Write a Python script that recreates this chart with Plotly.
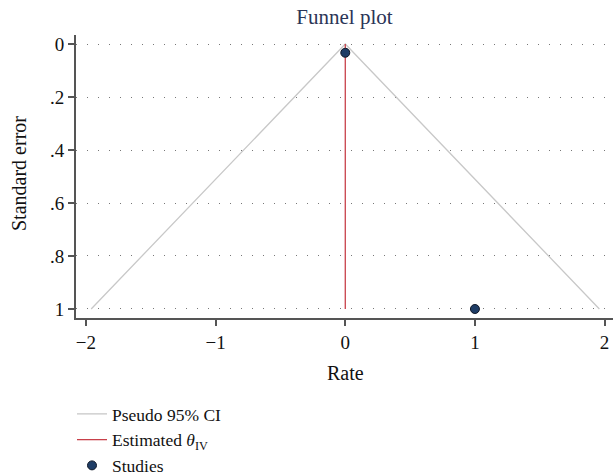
import plotly.graph_objects as go

# Data
study_rate = [0.0, 1.0]
study_se = [0.033, 1.0]
theta_iv = 0.0
ci_se = [1.0, 0.0, 1.0]
ci_rate = [theta_iv - 1.96, theta_iv, theta_iv + 1.96]
est_se = [0.0, 1.0]
est_rate = [theta_iv, theta_iv]
y_ticks = [0, 0.2, 0.4, 0.6, 0.8, 1]
y_labels = ["0", ".2", ".4", ".6", ".8", "1"]
x_ticks = [-2, -1, 0, 1, 2]
x_labels = ["\u22122", "\u22121", "0", "1", "2"]

FONT = "Liberation Serif"
FS = 19
W, H = 613, 474

fig = go.Figure()
fig.add_trace(go.Scatter(x=ci_rate, y=ci_se, mode="lines",
                         line=dict(color="#c8c8c8", width=1.3),
                         name="Pseudo 95% CI"))
fig.add_trace(go.Scatter(x=est_rate, y=est_se, mode="lines",
                         line=dict(color="#c8404a", width=1.3),
                         name="Estimated <i>θ</i><sub>IV</sub>"))
fig.add_trace(go.Scatter(x=study_rate, y=study_se, mode="markers",
                         marker=dict(color="#1f3d66", size=9,
                                     line=dict(color="#111827", width=1)),
                         name="Studies"))

fig.update_layout(
    width=W, height=H,
    margin=dict(l=76, r=0, t=35, b=156, autoexpand=False),
    paper_bgcolor="white", plot_bgcolor="white",
    font=dict(family=FONT, size=FS, color="#111111"),
    title=dict(text="Funnel plot", x=0.5, xref="paper", xanchor="center",
               y=1 - 17/H, yanchor="middle", yref="container",
               font=dict(family=FONT, size=21, color="#2b3557")),
    showlegend=True,
    legend=dict(x=72/W, xref="container", y=1 - 396/H, yref="container",
                xanchor="left", yanchor="top", orientation="v",
                font=dict(family=FONT, size=17.5, color="#111111"),
                bgcolor="rgba(0,0,0,0)", tracegroupgap=0, itemwidth=30),
    annotations=[
        dict(text="Standard error", xref="paper", yref="paper",
             x=(19 - 76) / (W - 76), y=(H - 156 - 174) / (H - 156 - 35),
             xanchor="center", yanchor="middle", textangle=-90,
             showarrow=False, font=dict(family=FONT, size=20, color="#111111")),
        dict(text="Rate", xref="paper", yref="paper",
             x=(345 - 76) / (W - 76), y=(H - 156 - 373) / (H - 156 - 35),
             xanchor="center", yanchor="middle",
             showarrow=False, font=dict(family=FONT, size=20, color="#111111")),
    ],
)
fig.update_xaxes(range=[-2.077, 2.065], tickvals=x_ticks, ticktext=x_labels,
                 showgrid=False, zeroline=False, showline=True,
                 linecolor="#555555", linewidth=2, ticks="outside",
                 ticklen=6, tickwidth=1.5, tickcolor="#555555",
                 tickfont=dict(family=FONT, size=FS, color="#111111"))
fig.update_yaxes(range=[1.034, -0.034], tickvals=y_ticks, ticktext=y_labels,
                 showgrid=True, gridcolor="#777777", gridwidth=1,
                 griddash="1px,10px", zeroline=False, showline=True,
                 linecolor="#555555", linewidth=2, ticks="outside",
                 ticklen=6, tickwidth=1.5, tickcolor="#555555",
                 tickfont=dict(family=FONT, size=FS, color="#111111"))

fig.write_html("out.html")
